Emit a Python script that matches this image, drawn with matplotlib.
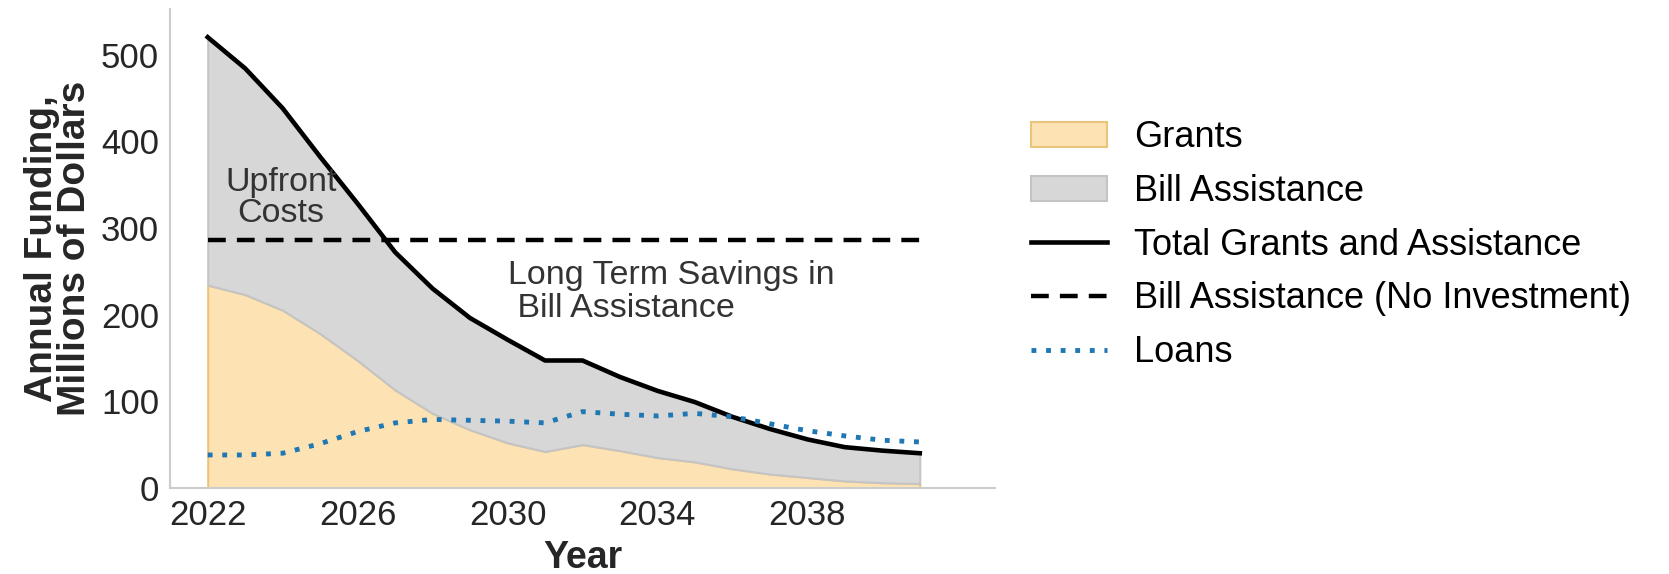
import numpy as np
import matplotlib.pyplot as plt

plt.rcParams['font.family'] = ['Liberation Sans', 'DejaVu Sans']

years = np.arange(2022, 2042)
grants = [234, 223, 205, 178, 147, 113, 86, 67, 52, 42,
          50, 43, 35, 30, 22, 16, 12, 8, 6, 5]
total = [520, 484, 438, 382, 328, 272, 230, 196, 171, 147,
         147, 128, 112, 99, 82, 68, 56, 47, 43, 40]
no_investment = [286] * len(years)
loans = [38, 38, 40, 51, 65, 75, 79, 78, 77, 75,
         88, 85, 83, 86, 82, 74, 66, 60, 55, 53]

bill_assist = np.array(total) - np.array(grants)

fig = plt.figure(figsize=(16.69, 5.74), dpi=100)
ax = fig.add_axes([0.102, 0.15, 0.494, 0.835])

# stacked areas
ax.fill_between(years, 0, grants, facecolor='#fde3b4', edgecolor='#ebc47c',
                linewidth=1.5, label='Grants')
ax.fill_between(years, grants, np.array(grants) + bill_assist, facecolor='#d7d7d7',
                edgecolor='#c4c4c4', linewidth=1.5, label='Bill Assistance')
ax.plot(years, total, color='black', lw=3.3, label='Total Grants and Assistance')
ax.plot(years, no_investment, color='black', lw=3.2, ls=(0, (4, 2.5)),
        label='Bill Assistance (No Investment)')
ax.plot(years, loans, color='#1f77b4', lw=3.5, ls=(0, (1, 2)), label='Loans')

ax.text(2023.95, 334, 'Upfront\nCosts', ha='center', va='center', fontsize=24.5,
        color='#333333', linespacing=1.0)
ax.text(2030.0, 226, 'Long Term Savings in\n Bill Assistance', ha='left', va='center',
        fontsize=24.5, color='#333333', linespacing=1.05)

ax.set_xlim(2021, 2043)
ax.set_ylim(0, 553)
ax.set_xticks([2022, 2026, 2030, 2034, 2038])
ax.set_yticks([0, 100, 200, 300, 400, 500])
ax.tick_params(axis='both', length=0, labelsize=25, labelcolor='#262626', pad=8)
for s in ['top', 'right']:
    ax.spines[s].set_visible(False)
for s in ['left', 'bottom']:
    ax.spines[s].set_color('#cccccc')
    ax.spines[s].set_linewidth(1.5)

ax.set_xlabel('Year', fontsize=27, fontweight='bold', color='#262626', labelpad=6)
ax.set_ylabel('Annual Funding,\nMillions of Dollars', fontsize=28, fontweight='bold',
              color='#262626', linespacing=0.88, labelpad=6)

fig.legend(loc='center left', bbox_to_anchor=(0.609, 0.573), frameon=False,
           fontsize=26, handlelength=2.1, handletextpad=0.75, labelspacing=0.52,
           borderaxespad=0)

fig.savefig('out.png', dpi=100)
